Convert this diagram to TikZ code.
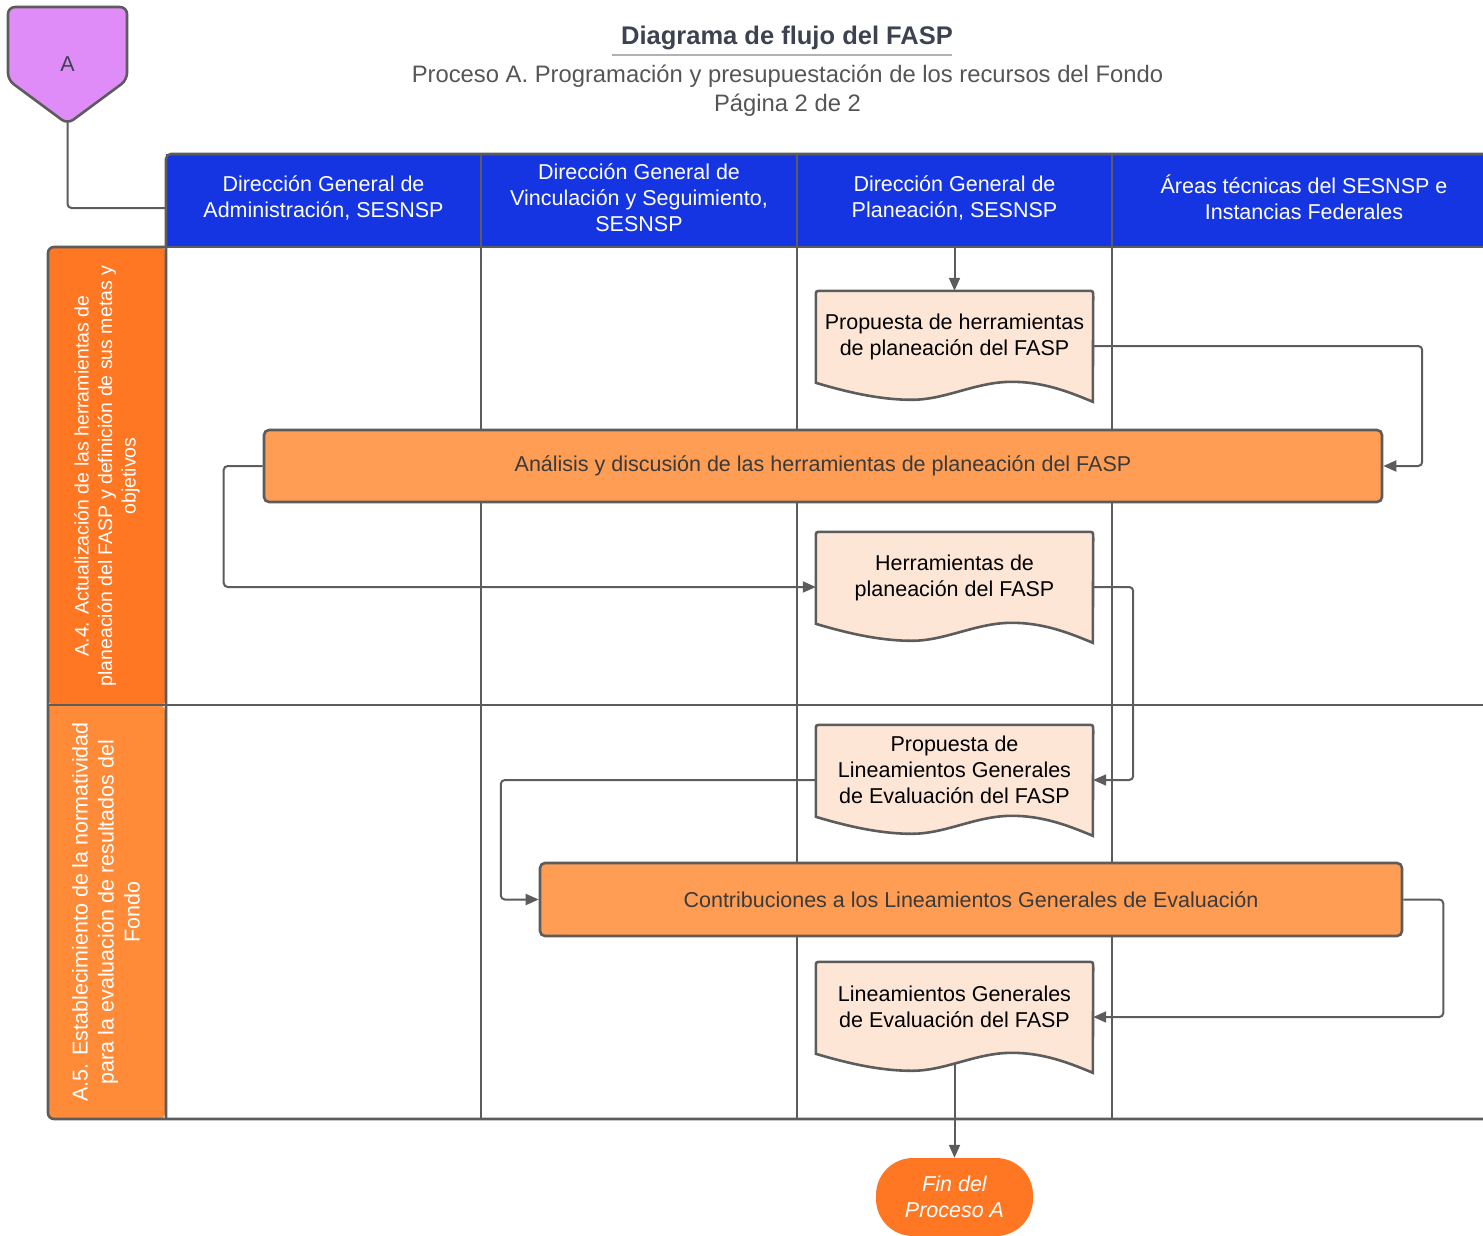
\documentclass[tikz,border=0pt]{standalone}
\usepackage{fontspec}
\setmainfont{Liberation Sans}
\usetikzlibrary{calc,arrows.meta}
\definecolor{lineg}{HTML}{5C5C5C}
\definecolor{hblue}{HTML}{1535E3}
\definecolor{laneA}{HTML}{FF7722}
\definecolor{laneB}{HTML}{FF8B38}
\definecolor{procfill}{HTML}{FF9D55}
\definecolor{docfill}{HTML}{FDE6D6}
\definecolor{pentfill}{HTML}{E08CF8}
\definecolor{titlec}{HTML}{3C4250}
\definecolor{subc}{HTML}{555555}
\definecolor{proctext}{HTML}{3A3A3A}
\newcommand{\fsMain}{\fontsize{21.5pt}{26pt}\selectfont}
\newcommand{\fsLane}{\fontsize{19.5pt}{23.5pt}\selectfont}
\newcommand{\docshape}[1]{%
  \draw[docsh]
    ($(#1.north west)+(0,92)$) -- ($(#1.north west)+(0,6)$)
    .. controls (#1.north west) .. ($(#1.north west)+(6,0)$)
    -- ($(#1.north east)+(-6,0)$)
    .. controls (#1.north east) .. ($(#1.north east)+(0,6)$)
    -- ($(#1.north west)+(277,111)$)
    .. controls ($(#1.north west)+(251,100)$) and ($(#1.north west)+(226,91)$) .. ($(#1.north west)+(196,91)$)
    .. controls ($(#1.north west)+(160,91)$) and ($(#1.north west)+(130,109)$) .. ($(#1.north west)+(96,109)$)
    .. controls ($(#1.north west)+(70,109)$) and ($(#1.north west)+(40,104)$) .. ($(#1.north west)+(0,92)$)
    -- cycle;}
\begin{document}
\begin{tikzpicture}[x=1pt,y=-1pt,
  hdrbg/.style={fill=hblue, inner sep=0pt, minimum height=93pt},
  hdrtext/.style={text=white, font=\fsMain, align=center, inner sep=0pt},
  lanebox/.style={rotate=90, text=white, align=center, inner sep=0pt,
    minimum height=118pt, rounded corners=6pt},
  pool/.style={draw=lineg, line width=2.6pt},
  conn/.style={draw=lineg, line width=2pt, rounded corners=4pt},
  arr/.style={conn, -{Triangle[length=13pt,width=11pt]}},
  docbox/.style={minimum width=277pt, minimum height=110pt, inner sep=0pt},
  docsh/.style={draw=lineg, line width=2.6pt, fill=docfill},
  doctext/.style={font=\fsMain, align=center, text=black, inner sep=0pt},
  proc/.style={draw=lineg, line width=2.6pt, fill=procfill, rounded corners=5pt,
    text=proctext, font=\fsMain, inner sep=0pt},
  term/.style={fill=laneA, text=white, font=\fsMain\itshape, align=center,
    minimum width=157pt, minimum height=78pt, rounded corners=37pt, inner sep=0pt}
]
\path[use as bounding box] (0,0) rectangle (1483,1236);
\clip (0,0) rectangle (1483,1236);

% title
\node[font=\fontsize{25.5pt}{30pt}\selectfont\bfseries, text=titlec] (title) at (787,38) {Diagrama de flujo del FASP};
\draw[draw=black!30, line width=2pt] (612,55) -- (952,55);
\node[font=\fontsize{23.8pt}{29pt}\selectfont, text=subc, align=center] (sub) at (787.5,91)
  {Proceso A. Programación y presupuestación de los recursos del Fondo\\Página 2 de 2};

% off-page connector A
\draw[draw=lineg, line width=2.6pt, fill=pentfill, rounded corners=7pt]
  (8,7) -- (127,7) -- (127,80) -- (67.5,124) -- (8,80) -- cycle;
\node[minimum width=119pt, minimum height=117pt, inner sep=0pt, font=\fsMain, text=titlec] (A) at (67.5,64.5) {A};

% headers
\node[hdrbg, minimum width=315pt] (h1) at (323.5,200.5) {};
\node[hdrbg, minimum width=316pt] (h2) at (639,200.5) {};
\node[hdrbg, minimum width=315pt] (h3) at (954.5,200.5) {};
\node[hdrbg, minimum width=384pt] (h4) at (1304,200.5) {};
\node[hdrtext] (h1t) at ([yshift=3pt]h1.center) {Dirección General de\\Administración, SESNSP};
\node[hdrtext] (h2t) at ([yshift=3pt]h2.center) {Dirección General de\\Vinculación y Seguimiento,\\SESNSP};
\node[hdrtext] (h3t) at ([yshift=3pt]h3.center) {Dirección General de\\Planeación, SESNSP};
\node[hdrtext] (h4t) at ([yshift=3pt]h4.center) {Áreas técnicas del SESNSP e\\Instancias Federales};

% lane labels
\node[lanebox, fill=laneA, minimum width=458pt, font=\fsLane] (L1) at (107,476)
  {A.4. Actualización de las herramientas de\\planeación del FASP y definición de sus metas y\\objetivos};
\node[lanebox, fill=laneB, minimum width=414pt, font=\fsMain] (L2) at (106,912)
  {A.5. Establecimiento de la normatividad\\para la evaluación de resultados del\\Fondo};

% pool lines
\draw[pool, rounded corners=5pt] (1490,154) -- (166,154) -- (166,1119);
\draw[pool] (481,154) -- (481,1119);
\draw[pool] (797,154) -- (797,1119);
\draw[pool] (1112,154) -- (1112,1119);
\draw[pool] (166,247) -- (1490,247);
\draw[pool] (48,705) -- (1490,705);
\draw[pool, rounded corners=6pt] (1490,1119) -- (48,1119) -- (48,247) -- (166,247);

% documents
\node[docbox] (d1) at (954.5,346) {};
\docshape{d1}
\node[doctext] (d1t) at ([yshift=9pt]d1.center) {Propuesta de herramientas\\de planeación del FASP};

\node[docbox] (d2) at (954.5,587) {};
\docshape{d2}
\node[doctext] (d2t) at ([yshift=9pt]d2.center) {Herramientas de\\planeación del FASP};

\node[docbox] (d3) at (954.5,780) {};
\docshape{d3}
\node[doctext] (d3t) at ([yshift=10pt]d3.center) {Propuesta de\\Lineamientos Generales\\de Evaluación del FASP};

\node[docbox] (d4) at (954.5,1017) {};
\docshape{d4}
\node[doctext] (d4t) at ([yshift=10pt]d4.center) {Lineamientos Generales\\de Evaluación del FASP};

% processes
\node[proc, minimum width=1118pt, minimum height=72pt] (p1) at (823,466)
  {Análisis y discusión de las herramientas de planeación del FASP};
\node[proc, minimum width=862pt, minimum height=73pt] (p2) at (971,899.5)
  {Contribuciones a los Lineamientos Generales de Evaluación};

% terminal
\node[term] (t) at (954.5,1197) {Fin del\\Proceso A};

% connectors
\draw[conn] (A.south) |- ([yshift=-7.5pt]h1.west);
\draw[arr] (h3.south) -- (d1.north);
\draw[arr] (d1.east) -- ++(329,0) |- (p1.east);
\draw[arr] (p1.west) -- ++(-39,0) |- (d2.west);
\draw[arr] (d2.east) -- ++(40,0) |- (d3.east);
\draw[arr] (d3.west) -- ++(-315,0) |- (p2.west);
\draw[arr] (p2.east) -- ++(40,0) |- (d4.east);
\draw[arr] ([yshift=9pt]d4.south) -- (t.north);
\end{tikzpicture}
\end{document}
